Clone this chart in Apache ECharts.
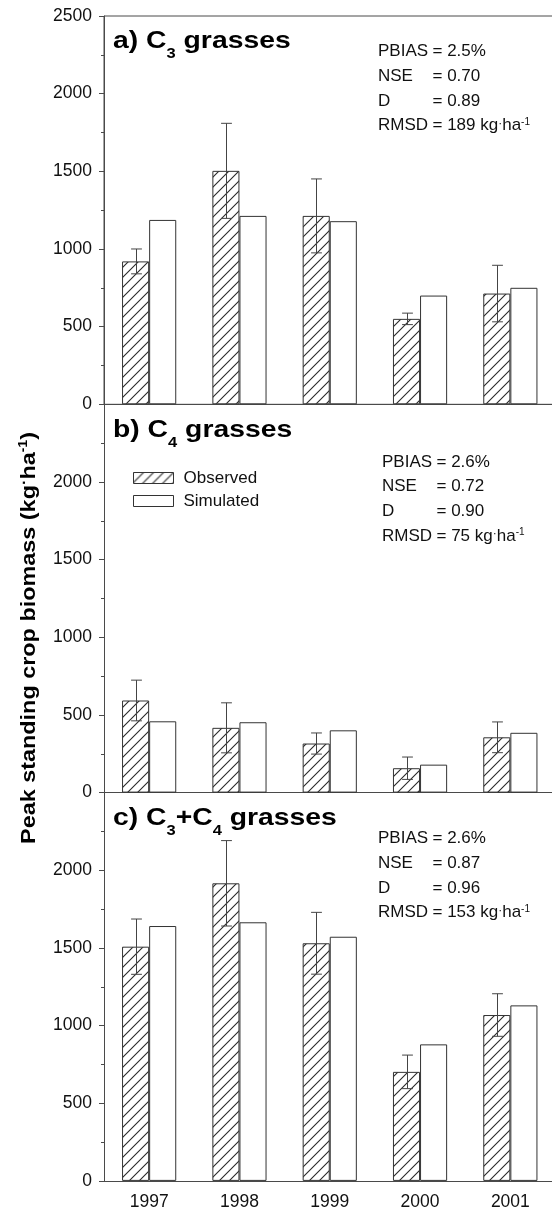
<!DOCTYPE html>
<html><head><meta charset="utf-8">
<script src="https://cdn.jsdelivr.net/npm/echarts@6/dist/echarts.min.js"></script>
<style>html,body{margin:0;padding:0;background:#fff}#c{width:552px;height:1217px}</style>
</head><body><div id="c"></div>
<script>
// ---------------- data ----------------
const years = ['1997', '1998', '1999', '2000', '2001'];
const yTicks = [0, 500, 1000, 1500, 2000, 2500];

const c3Observed = [920, 1503, 1213, 550, 713];
const c3ObservedErr = [80, 306, 238, 37, 182];
const c3Simulated = [1187, 1213, 1179, 700, 750];

const c4Observed = [593, 417, 316, 157, 356];
const c4ObservedErr = [131, 161, 68, 72, 99];
const c4Simulated = [459, 453, 401, 180, 385];

const c34Observed = [1508, 1916, 1530, 702, 1068];
const c34ObservedErr = [178, 275, 199, 108, 137];
const c34Simulated = [1641, 1665, 1572, 879, 1130];

const panelTitles = [
  '{m|a) C}{u|3}{m| grasses}',
  '{m|b) C}{u|4}{m| grasses}',
  '{m|c) C}{u|3}{m|+C}{u|4}{m| grasses}'
];
const statNames = ['PBIAS', 'NSE', 'D', 'RMSD'];
const c3Stats = ['= 2.5%', '= 0.70', '= 0.89', '= 189 kg{d|·}ha{s|-1}'];
const c4Stats = ['= 2.6%', '= 0.72', '= 0.90', '= 75 kg{d|·}ha{s|-1}'];
const c34Stats = ['= 2.6%', '= 0.87', '= 0.96', '= 153 kg{d|·}ha{s|-1}'];
const legendNames = ['Observed', 'Simulated'];
const yTitle = '{m|Peak standing crop biomass (kg}{d|·}{m|ha}{s|-1}{m|)}';

// ---------------- layout / style ----------------
const FONT = '"Liberation Sans", Arial, Helvetica, sans-serif';
const AXIS = '#4a4a4a';
const EDGE = '#333';
const TXT = '#111';
const GRID_LEFT = 104, GRID_W = 451.5, GRID_H = 388.3;
const GRID_TOPS = [16, 404.3, 792.6];

function hatchCanvas() {
  const s = 10;
  const c = document.createElement('canvas');
  c.width = s; c.height = s;
  const g = c.getContext('2d');
  g.fillStyle = '#fff'; g.fillRect(0, 0, s, s);
  g.strokeStyle = '#2a2a2a'; g.lineWidth = 1.1;
  g.beginPath();
  g.moveTo(0, s); g.lineTo(s, 0);
  g.moveTo(-2, 2); g.lineTo(2, -2);
  g.moveTo(s - 2, s + 2); g.lineTo(s + 2, s - 2);
  g.stroke();
  return c;
}
const HATCH = { image: hatchCanvas(), repeat: 'repeat' };

const panels = [
  { obs: c3Observed, err: c3ObservedErr, sim: c3Simulated, stats: c3Stats, statX: 378, statTop: 39.4 },
  { obs: c4Observed, err: c4ObservedErr, sim: c4Simulated, stats: c4Stats, statX: 382, statTop: 449.8 },
  { obs: c34Observed, err: c34ObservedErr, sim: c34Simulated, stats: c34Stats, statX: 378, statTop: 826.4 }
];

const grid = [], xAxis = [], yAxis = [], series = [], graphic = [];
panels.forEach((p, i) => {
  grid.push({ left: GRID_LEFT, top: GRID_TOPS[i], width: GRID_W, height: GRID_H,
    outerBoundsMode: 'none', containLabel: false,
    show: i === 0, borderColor: AXIS, borderWidth: 1, backgroundColor: 'transparent' });
  xAxis.push({ type: 'category', gridIndex: i, data: years,
    axisLine: { lineStyle: { color: AXIS, width: 1 } },
    axisTick: { alignWithLabel: true, length: 5, lineStyle: { color: AXIS } },
    axisLabel: { show: i === 2, fontSize: 17.5, color: TXT, fontFamily: FONT, margin: 12 } });
  yAxis.push({ type: 'value', gridIndex: i, min: yTicks[0], max: yTicks[yTicks.length - 1], interval: 500,
    axisLine: { show: true, lineStyle: { color: AXIS, width: 1 } },
    axisTick: { show: true, length: 5, lineStyle: { color: AXIS } },
    minorTick: { show: true, splitNumber: 2, length: 3, lineStyle: { color: AXIS } },
    splitLine: { show: false },
    axisLabel: { fontSize: 17.5, color: TXT, fontFamily: FONT, margin: 12, showMaxLabel: i === 0,
      formatter: v => String(v) } });
  series.push({ type: 'bar', name: legendNames[0], xAxisIndex: i, yAxisIndex: i, data: p.obs,
    barWidth: '30%', barGap: '0%', silent: true,
    itemStyle: { color: HATCH, borderColor: EDGE, borderWidth: 1 } });
  series.push({ type: 'bar', name: legendNames[1], xAxisIndex: i, yAxisIndex: i, data: p.sim,
    barWidth: '30%', barGap: '0%', silent: true,
    itemStyle: { color: '#fff', borderColor: EDGE, borderWidth: 1 } });
  series.push({ type: 'custom', name: 'err' + i, xAxisIndex: i, yAxisIndex: i, z: 5, silent: true,
    data: p.obs.map((v, k) => [k, v, p.err[k]]),
    renderItem(params, api) {
      const k = api.value(0), v = api.value(1), e = api.value(2);
      const band = api.size([1, 0])[0];
      const cx = Math.round(api.coord([k, v])[0] - band * 0.15) + 0.5;
      const top = api.coord([k, v + e])[1], bot = api.coord([k, v - e])[1];
      const hw = band * 0.06;
      const st = { stroke: '#444', lineWidth: 1 };
      return { type: 'group', children: [
        { type: 'line', shape: { x1: cx, y1: top, x2: cx, y2: bot }, style: st },
        { type: 'line', shape: { x1: cx - hw, y1: top, x2: cx + hw, y2: top }, style: st },
        { type: 'line', shape: { x1: cx - hw, y1: bot, x2: cx + hw, y2: bot }, style: st }
      ] };
    } });

  // panel title
  graphic.push({ type: 'text', x: 113, y: GRID_TOPS[i] + 5.6, scaleX: 1.18, z: 10,
    style: { text: panelTitles[i], fill: '#000', verticalAlign: 'top', align: 'left',
      rich: { m: { fontSize: 24, fontWeight: 'bold', fontFamily: FONT, lineHeight: 40, verticalAlign: 'middle' },
              u: { fontSize: 14, fontWeight: 'bold', fontFamily: FONT, lineHeight: 14, verticalAlign: 'bottom' } } } });
  // statistics
  const statRich = { d: { fontSize: 12, fontFamily: FONT, lineHeight: 10, verticalAlign: 'top', padding: [4, 0, 0, 0] },
                     s: { fontSize: 10, fontFamily: FONT, lineHeight: 10, verticalAlign: 'top', padding: [4, 0, 0, 0] } };
  graphic.push({ type: 'text', x: p.statX, y: p.statTop, z: 10,
    style: { text: statNames.join('\n'), fill: TXT, fontSize: 17, fontFamily: FONT, lineHeight: 24.6, verticalAlign: 'top' } });
  graphic.push({ type: 'text', x: p.statX + 54.5, y: p.statTop, z: 10,
    style: { text: p.stats.join('\n'), fill: TXT, fontSize: 17, fontFamily: FONT, lineHeight: 24.6, verticalAlign: 'top', rich: statRich } });
});

// y-axis title
graphic.push({ type: 'text', x: 29, y: 638, rotation: Math.PI / 2, scaleX: 1.17, z: 10,
  style: { text: yTitle, fill: '#000', align: 'center', verticalAlign: 'middle',
    rich: { m: { fontSize: 20, fontWeight: 'bold', fontFamily: FONT, lineHeight: 22 },
            d: { fontSize: 14, fontWeight: 'bold', fontFamily: FONT, lineHeight: 12, verticalAlign: 'top' },
            s: { fontSize: 12, fontWeight: 'bold', fontFamily: FONT, lineHeight: 12, verticalAlign: 'top' } } } });

const chart = echarts.init(document.getElementById('c'), null, { renderer: 'canvas' });
chart.setOption({
  animation: false,
  backgroundColor: '#fff',
  textStyle: { fontFamily: FONT },
  grid, xAxis, yAxis, series, graphic,
  legend: { orient: 'vertical', left: 133, top: 469.5, padding: 0, itemWidth: 40, itemHeight: 11, itemGap: 6,
    icon: 'rect', selectedMode: false,
    textStyle: { fontSize: 17, color: TXT, fontFamily: FONT, padding: [0, 0, 0, 5] },
    data: legendNames.map(n => ({ name: n, itemStyle: { borderColor: EDGE, borderWidth: 1 } })) }
});
</script></body></html>
